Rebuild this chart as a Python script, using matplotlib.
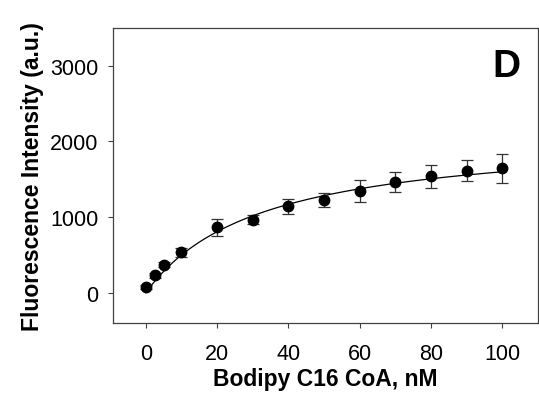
import numpy as np
import matplotlib
matplotlib.use('Agg')
import matplotlib.pyplot as plt

plt.rcParams['font.family'] = ['Liberation Sans', 'DejaVu Sans']

# measured points
conc = [0, 2.5, 5, 10, 20, 30, 40, 50, 60, 70, 80, 90, 100]
intensity = [80, 231, 373, 533, 865, 965, 1145, 1225, 1345, 1465, 1540, 1615, 1645]
err = [25, 30, 35, 60, 110, 60, 100, 95, 145, 133, 150, 142, 195]

# one-site binding fit, Bmax * x / (Kd + x)
bmax = 2119
kd = 32.5

fig = plt.figure(figsize=(5.39, 4.02), dpi=100)
ax = fig.add_axes([113 / 539, 1 - 324 / 402, 425 / 539, 295 / 402])

xfit = np.linspace(0, 100, 200)
ax.plot(xfit, bmax * xfit / (kd + xfit), color='black', lw=0.9, zorder=2)
ax.errorbar(conc, intensity, yerr=err, fmt='none', ecolor='#333333',
            elinewidth=0.9, capsize=4, capthick=0.9, zorder=3)
ax.plot(conc, intensity, 'o', color='black', ms=7.5, zorder=4)

ax.set_xlim(-9.2, 110)
ax.set_ylim(-400, 3500)
ax.set_xticks([0, 20, 40, 60, 80, 100])
ax.set_yticks([0, 1000, 2000, 3000])

for s in ax.spines.values():
    s.set_color('#404040')
    s.set_linewidth(0.9)
ax.tick_params(direction='out', length=3.6, width=0.8, color='#404040',
               labelsize=15.5)
ax.tick_params(axis='x', pad=11)
ax.tick_params(axis='y', pad=7)

ax.set_xlabel('Bodipy C16 CoA, nM', fontsize=16.5, fontweight='bold', labelpad=2)
ax.set_ylabel('Fluorescence Intensity (a.u.)', fontsize=16.5, fontweight='bold',
              labelpad=4)

ax.text(0.958, 0.837, 'D', transform=ax.transAxes, ha='right', va='baseline',
        fontsize=28, fontweight='bold')

fig.savefig('out.png', dpi=100)
